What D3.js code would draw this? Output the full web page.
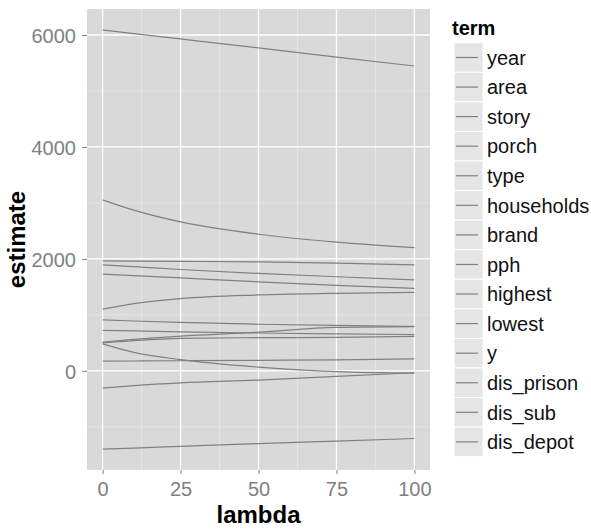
<!DOCTYPE html>
<html>
<head>
<meta charset="utf-8">
<script src="https://cdnjs.cloudflare.com/ajax/libs/d3/7.8.5/d3.min.js"></script>
<style>
  body { margin: 0; background: #fff; }
  svg text { font-family: "Liberation Sans", Arial, sans-serif; }
</style>
</head>
<body>
<div id="chart"></div>
<script>
// lambda grid shared by every term
const lambda = [0, 10, 25, 50, 75, 100];

// estimates, one array per term
const year       = [6090, 6025, 5930, 5770, 5605, 5446];
const area       = [3054, 2870, 2660, 2440, 2300, 2200];
const story      = [1964, 1960, 1955, 1945, 1925, 1893];
const porch      = [1893, 1860, 1810, 1740, 1680, 1625];
const type       = [1727, 1700, 1660, 1590, 1525, 1471];
const households = [1102, 1200, 1290, 1355, 1385, 1400];
const brand      = [910, 890, 865, 832, 810, 793];
const pph        = [724, 712, 697, 675, 660, 648];
const highest    = [512, 560, 620, 690, 775, 790];
const lowest     = [500, 540, 580, 592, 598, 615];
const y          = [482, 330, 200, 66, -15, -40];
const dis_prison = [173, 175, 180, 188, 195, 215];
const dis_sub    = [-309, -265, -215, -165, -100, -35];
const dis_depot  = [-1398, -1380, -1350, -1300, -1255, -1210];

const terms = ["year", "area", "story", "porch", "type", "households", "brand",
               "pph", "highest", "lowest", "y", "dis_prison", "dis_sub", "dis_depot"];
const values = [year, area, story, porch, type, households, brand,
                pph, highest, lowest, y, dis_prison, dis_sub, dis_depot];

const xTicks = [0, 25, 50, 75, 100];
const yTicks = [0, 2000, 4000, 6000];

const width = 591, height = 530;
const panel = { left: 87, right: 430, top: 9, bottom: 470 };
const lineColor = "#808080";

const series = terms.map((t, i) => ({
    term: t,
    points: lambda.map((l, j) => ({ lambda: l, estimate: values[i][j] }))
}));

const svg = d3.select("#chart").append("svg")
    .attr("width", width)
    .attr("height", height);

// ggplot style 5% expansion
const xr = d3.extent(lambda), xpad = (xr[1] - xr[0]) * 0.05;
const allVals = values.flat();
const yr = d3.extent(allVals), ypad = (yr[1] - yr[0]) * 0.05;

const x = d3.scaleLinear()
    .domain([xr[0] - xpad, xr[1] + xpad])
    .range([panel.left, panel.right]);

const yScale = d3.scaleLinear()
    .domain([yr[0] - ypad, yr[1] + ypad])
    .range([panel.bottom, panel.top]);

// panel background
svg.append("rect")
    .attr("x", panel.left).attr("y", panel.top)
    .attr("width", panel.right - panel.left)
    .attr("height", panel.bottom - panel.top)
    .attr("fill", "#d9d9d9");

// minor grid
const xMinor = xTicks.slice(0, -1).map((d, i) => (d + xTicks[i + 1]) / 2);
const yMinor = [-1000, 1000, 3000, 5000];
const grid = svg.append("g");
grid.selectAll("line.xminor").data(xMinor).enter().append("line")
    .attr("x1", d => x(d)).attr("x2", d => x(d))
    .attr("y1", panel.top).attr("y2", panel.bottom)
    .attr("stroke", "#ebebeb").attr("stroke-width", 0.7);
grid.selectAll("line.yminor").data(yMinor).enter().append("line")
    .attr("y1", d => yScale(d)).attr("y2", d => yScale(d))
    .attr("x1", panel.left).attr("x2", panel.right)
    .attr("stroke", "#ebebeb").attr("stroke-width", 0.7);

// major grid
grid.selectAll("line.xmajor").data(xTicks).enter().append("line")
    .attr("x1", d => x(d)).attr("x2", d => x(d))
    .attr("y1", panel.top).attr("y2", panel.bottom)
    .attr("stroke", "#fff").attr("stroke-width", 1.3);
grid.selectAll("line.ymajor").data(yTicks).enter().append("line")
    .attr("y1", d => yScale(d)).attr("y2", d => yScale(d))
    .attr("x1", panel.left).attr("x2", panel.right)
    .attr("stroke", "#fff").attr("stroke-width", 1.3);

// lines
const line = d3.line()
    .x(d => x(d.lambda))
    .y(d => yScale(d.estimate))
    .curve(d3.curveMonotoneX);

svg.append("g").selectAll("path")
    .data(series)
    .enter().append("path")
    .attr("d", d => line(d.points))
    .attr("fill", "none")
    .attr("stroke", lineColor)
    .attr("stroke-width", 1.2);

// axes
const xAxis = svg.append("g")
    .attr("transform", `translate(0,${panel.bottom})`)
    .call(d3.axisBottom(x).tickValues(xTicks).tickSize(4).tickPadding(8));
const yAxis = svg.append("g")
    .attr("transform", `translate(${panel.left},0)`)
    .call(d3.axisLeft(yScale).tickValues(yTicks).tickFormat(d3.format("d")).tickSize(5).tickPadding(6));

[xAxis, yAxis].forEach(g => {
    g.select(".domain").remove();
    g.selectAll(".tick line").attr("stroke", "#7f7f7f");
    g.selectAll(".tick text")
        .attr("fill", "#7f7f7f")
        .style("font-size", "20px");
});
yAxis.selectAll(".tick text").attr("dy", "0.36em");

// axis titles
svg.append("text")
    .attr("x", (panel.left + panel.right) / 2)
    .attr("y", 523)
    .attr("text-anchor", "middle")
    .style("font-size", "24px")
    .style("font-weight", "bold")
    .text("lambda");

svg.append("text")
    .attr("transform", `translate(25,${(panel.top + panel.bottom) / 2}) rotate(-90)`)
    .attr("text-anchor", "middle")
    .style("font-size", "24px")
    .style("font-weight", "bold")
    .text("estimate");

// legend
const legend = svg.append("g").attr("transform", "translate(454,0)");
legend.append("text")
    .attr("x", -2).attr("y", 35)
    .style("font-size", "20px")
    .style("font-weight", "bold")
    .text("term");

const keyH = 29.57, keyW = 29, keyTop = 42.7;
const rows = legend.selectAll("g.row")
    .data(terms)
    .enter().append("g")
    .attr("transform", (d, i) => `translate(0,${keyTop + i * keyH})`);

rows.append("rect")
    .attr("width", keyW).attr("height", keyH)
    .attr("fill", "#e5e5e5")
    .attr("stroke", "#fff").attr("stroke-width", 1);
rows.append("line")
    .attr("x1", 2).attr("x2", keyW - 5)
    .attr("y1", keyH / 2).attr("y2", keyH / 2)
    .attr("stroke", lineColor).attr("stroke-width", 1.2);
rows.append("text")
    .attr("x", keyW + 4)
    .attr("y", keyH / 2)
    .attr("dy", "0.36em")
    .style("font-size", "20px")
    .attr("fill", "#111")
    .text(d => d);
</script>
</body>
</html>
